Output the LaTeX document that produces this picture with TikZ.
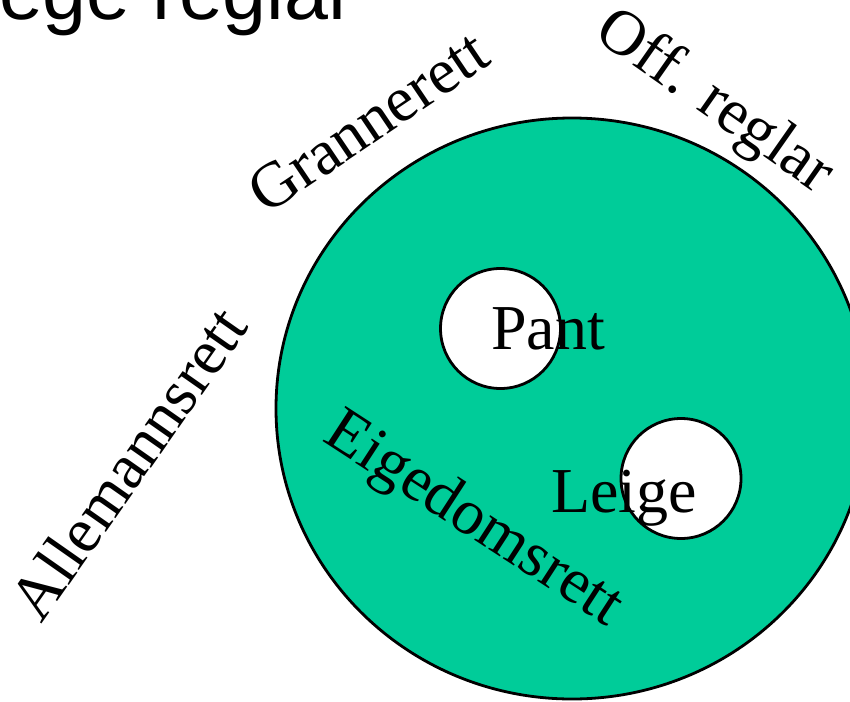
\documentclass[tikz,border=0pt]{standalone}
\usepackage{fontspec}
\setmainfont{Liberation Serif}
\newfontfamily\titlefont{Liberation Sans}
\usetikzlibrary{shapes.geometric}
\definecolor{eiggreen}{RGB}{0,204,153}
\begin{document}
\begin{tikzpicture}[x=1pt,y=-1pt,
  lbl/.style={inner sep=0pt, font=\fontsize{64}{64}\selectfont},
  hole/.style={circle, draw=black, fill=white, line width=2.8pt, minimum size=120pt, inner sep=0pt}]
\useasboundingbox (0,0) rectangle (850,701);
\fill[white] (0,0) rectangle (850,701);
\node[ellipse, draw=black, fill=eiggreen, line width=2.8pt, minimum width=592pt, minimum height=581pt, inner sep=0pt] (eig) at (572,408.5) {};
\node[hole] (pantc) at (500.5,328.5) {};
\node[hole] (leigec) at (681,478.5) {};
\node[lbl, anchor=base west] (pant) at (491,349) {Pant};
\node[lbl, anchor=base west] (leige) at (551,512.5) {Leige};
\node[lbl, rotate=-33] (eigt) at (473,521) {Eigedomsrett};
\node[lbl, rotate=55] (alle) at (128,463) {Allemannsrett};
\node[lbl, rotate=34] (granne) at (368,122) {Grannerett};
\node[lbl, rotate=-35] (off) at (714,103) {Off. reglar};
\node[inner sep=0pt, anchor=base east, font=\titlefont\fontsize{79}{79}\selectfont] (title) at (355,20) {ege reglar};
\end{tikzpicture}
\end{document}
